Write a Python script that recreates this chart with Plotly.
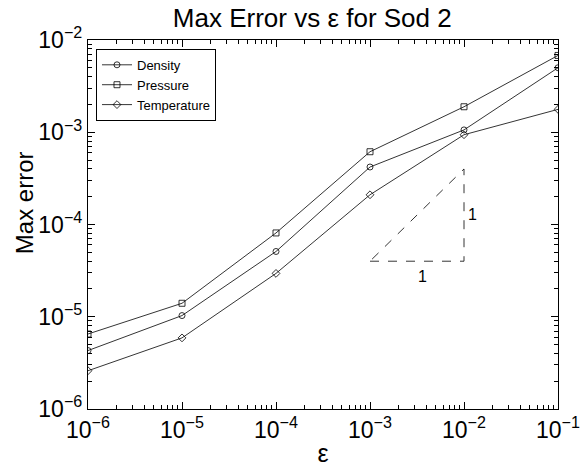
import plotly.graph_objects as go

eps = [1e-6, 1e-5, 1e-4, 1e-3, 1e-2, 1e-1]
density = [4.3e-6, 1.03e-5, 5.1e-5, 4.2e-4, 1.06e-3, 5.0e-3]
pressure = [6.5e-6, 1.4e-5, 8.1e-5, 6.15e-4, 1.89e-3, 6.8e-3]
temperature = [2.6e-6, 5.9e-6, 2.95e-5, 2.1e-4, 9.4e-4, 1.77e-3]

tri_x = [1e-3, 1e-2, 1e-2, 1e-3]
tri_y = [4e-5, 4e-5, 4e-4, 4e-5]

x_ticks = [1e-6, 1e-5, 1e-4, 1e-3, 1e-2, 1e-1]
x_ticktext = ["10<sup>−6</sup>", "10<sup>−5</sup>", "10<sup>−4</sup>",
              "10<sup>−3</sup>", "10<sup>−2</sup>", "10<sup>−1</sup>"]
y_ticks = [1e-6, 1e-5, 1e-4, 1e-3, 1e-2]
y_ticktext = ["10<sup>−6</sup>", "10<sup>−5</sup>", "10<sup>−4</sup>",
              "10<sup>−3</sup>", "10<sup>−2</sup>"]

FONT = "Liberation Sans, Arial, Helvetica, sans-serif"

fig = go.Figure()
series = [("Density", density, "circle-open"),
          ("Pressure", pressure, "square-open"),
          ("Temperature", temperature, "diamond-open")]
for name, vals, sym in series:
    fig.add_trace(go.Scatter(x=eps, y=vals, mode="lines+markers", name=name,
                             line=dict(color="black", width=0.8),
                             marker=dict(symbol=sym, size=6, color="black",
                                         line=dict(color="black", width=0.8))))

fig.add_trace(go.Scatter(x=tri_x, y=tri_y, mode="lines", showlegend=False,
                         line=dict(color="black", width=0.8, dash="dash")))

fig.add_annotation(x=-2.44, y=-4.56, xref="x", yref="y", text="1", showarrow=False,
                   font=dict(size=16, family=FONT, color="black"))
fig.add_annotation(x=-1.91, y=-3.89, xref="x", yref="y", text="1", showarrow=False,
                   font=dict(size=16, family=FONT, color="black"))

# y-axis title placed like the reference (slightly above the axis centre)
fig.add_annotation(x=-0.136, y=0.558, xref="paper", yref="paper", text="Max error",
                   textangle=-90, showarrow=False, xanchor="center", yanchor="middle",
                   font=dict(size=24, family=FONT, color="black"))

minor_x = [m * 10**e for e in range(-6, -1) for m in range(2, 10)]
minor_y = [m * 10**e for e in range(-6, -2) for m in range(2, 10)]

axis_common = dict(type="log", showgrid=False, zeroline=False, showline=True,
                   linecolor="black", linewidth=1.3, mirror="ticks", ticks="inside",
                   ticklen=7, tickwidth=1, tickcolor="black", automargin=False,
                   tickfont=dict(size=23, family=FONT, color="black"))

fig.update_xaxes(**axis_common, range=[-6, -1], tickmode="array", tickvals=x_ticks,
                 ticktext=x_ticktext,
                 minor=dict(tickmode="array", tickvals=minor_x, ticks="inside",
                            ticklen=4, tickwidth=1, tickcolor="black", showgrid=False),
                 title=dict(text="ε", font=dict(size=25, family=FONT, color="black"),
                            standoff=2))
fig.update_yaxes(**axis_common, range=[-6, -2], tickmode="array", tickvals=y_ticks,
                 ticktext=y_ticktext,
                 minor=dict(tickmode="array", tickvals=minor_y, ticks="inside",
                            ticklen=4, tickwidth=1, tickcolor="black", showgrid=False))

fig.update_layout(
    width=587, height=471,
    margin=dict(l=88, r=29, t=40, b=62),
    paper_bgcolor="white", plot_bgcolor="white",
    title=dict(text="Max Error vs ε for Sod 2", x=0.532, xanchor="center",
               y=0.962, yanchor="middle",
               font=dict(size=26, family=FONT, color="black")),
    legend=dict(x=0.017, y=0.976, xanchor="left", yanchor="top",
                bgcolor="white", bordercolor="black", borderwidth=1,
                font=dict(size=13, family=FONT, color="black"),
                itemwidth=30, tracegroupgap=0),
    showlegend=True,
)

fig.write_html("out.html")
